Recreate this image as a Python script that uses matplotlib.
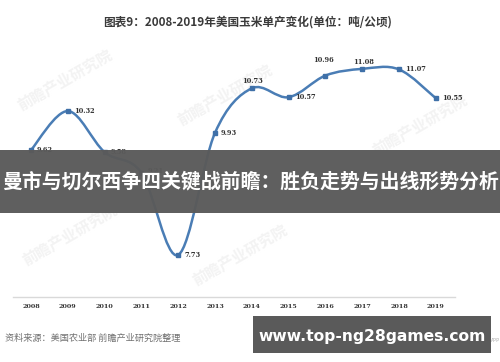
import matplotlib
matplotlib.use("Agg")
import matplotlib.pyplot as plt
from matplotlib.path import Path
from matplotlib.patches import PathPatch, Rectangle

plt.rcParams['font.family'] = ['Noto Sans CJK SC', 'DejaVu Sans']

years = ['2008', '2009', '2010', '2011', '2012', '2013', '2014', '2015', '2016', '2017', '2018', '2019']
yields = [9.62, 10.32, 9.58, 9.21, 7.73, 9.93, 10.73, 10.57, 10.96, 11.08, 11.07, 10.55]
label_pos = ['r', 'r', 'r', 'ur', 'r', 'r', 'u', 'r', 'u2', 'u', 'r', 'r']

title = '图表9：2008-2019年美国玉米单产变化(单位：吨/公顷)'
source = '资料来源：美国农业部 前瞻产业研究院整理'
banner = '曼市与切尔西争四关键战前瞻：胜负走势与出线形势分析'
url = 'www.top-ng28games.com'
watermark = '前瞻产业研究院'

W, H = 500, 362
fig = plt.figure(figsize=(W / 100, H / 100), dpi=100)
fig.patch.set_facecolor('white')

# faint watermarks (behind the chart)
for (wx, wy) in [(65, 80), (225, 95), (420, 125), (70, 235), (240, 255)]:
    fig.text(wx / W, 1 - wy / H, watermark, rotation=30, fontsize=11, color='#f3f3f3',
             ha='center', va='center', fontweight='bold', zorder=0)

ax = fig.add_axes([13 / W, 1 - 297 / H, (455 - 13) / W, (297 - 40) / H])
ax.set_zorder(1)
ax.set_xlim(-0.49, 11.52)
ax.set_ylim(6.972, 11.6)
ax.patch.set_alpha(0)
for s in ['top', 'right', 'left']:
    ax.spines[s].set_visible(False)
ax.spines['bottom'].set_color('#d9d9d9')
ax.spines['bottom'].set_linewidth(1.0)
ax.set_yticks([])
x = list(range(len(years)))
ax.set_xticks(x)
ax.set_xticklabels(years, fontsize=4.6, fontweight='bold', color='#333333', family='DejaVu Serif')
ax.tick_params(axis='x', length=0, pad=5)

# smooth line (Excel-style Bezier)
n = len(x)
verts = [(x[0], yields[0])]
codes = [Path.MOVETO]
for i in range(n - 1):
    p0 = (x[max(i - 1, 0)], yields[max(i - 1, 0)])
    p1 = (x[i], yields[i])
    p2 = (x[i + 1], yields[i + 1])
    p3 = (x[min(i + 2, n - 1)], yields[min(i + 2, n - 1)])
    c1 = (p1[0] + (p2[0] - p0[0]) / 6, p1[1] + (p2[1] - p0[1]) / 6)
    c2 = (p2[0] - (p3[0] - p1[0]) / 6, p2[1] - (p3[1] - p1[1]) / 6)
    verts += [c1, c2, p2]
    codes += [Path.CURVE4] * 3
ax.add_patch(PathPatch(Path(verts, codes), facecolor='none', edgecolor='#4a7db5', lw=1.8, zorder=2))
ax.plot(x, yields, linestyle='none', marker='s', markersize=3.2, color='#3f70a8', zorder=3)

k = 0.72
for xi, yi, pos in zip(x, yields, label_pos):
    if pos == 'r':
        off, ha, va = (6 * k, 0), 'left', 'center'
    elif pos == 'ur':
        off, ha, va = (6 * k, 2 * k), 'left', 'center'
    elif pos == 'u':
        off, ha, va = (1 * k, 7 * k), 'center', 'center'
    else:
        off, ha, va = (-2 * k, 16 * k), 'center', 'center'
    ax.annotate(f'{yi:.2f}', (xi, yi), xytext=off, textcoords='offset points',
                ha=ha, va=va, fontsize=4.8, fontweight='bold', color='#333333',
                family='DejaVu Serif', zorder=4)

fig.text(248 / W, 1 - 22 / H, title, ha='center', va='center', fontsize=8.4,
         fontweight='bold', color='#3a3a3a')
fig.text(5 / W, 1 - 338 / H, source, ha='left', va='center', fontsize=6.6, color='#707070')
fig.text(491 / W, 1 - 340 / H, 'APP', ha='left', va='center', fontsize=3.6, color='#aaaaaa')

# banner overlay
fig.patches.append(Rectangle((0, 1 - 213 / H), 1, 63 / H, transform=fig.transFigure,
                             facecolor='#5a5a5a', edgecolor='none', alpha=0.97, zorder=5))
fig.text(250 / W, 1 - 181 / H, banner, ha='center', va='center', fontsize=14.3,
         fontweight='bold', color='white', zorder=6)

# url box
fig.patches.append(Rectangle((253 / W, 1 - 353 / H), (491 - 253) / W, (353 - 316) / H,
                             transform=fig.transFigure, facecolor='#5a5a5a',
                             edgecolor='none', zorder=5))
fig.text(372 / W, 1 - 336 / H, url, ha='center', va='center', fontsize=11.2,
         fontweight='bold', color='white', family='DejaVu Sans', zorder=6)

fig.savefig('out.png', dpi=100)
